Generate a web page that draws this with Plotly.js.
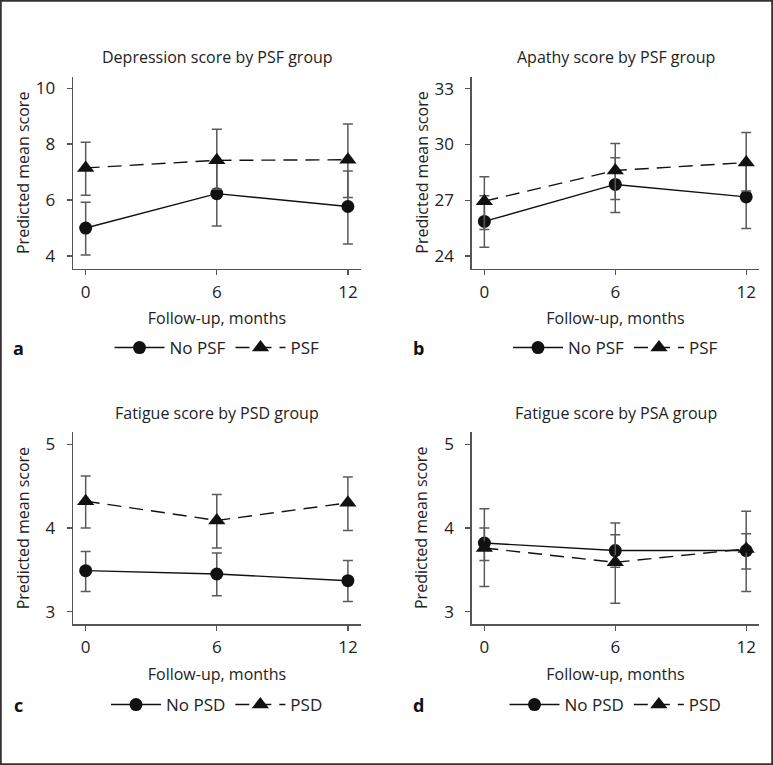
<!DOCTYPE html>
<html>
<head>
<meta charset="utf-8">
<script src="https://cdn.plot.ly/plotly-3.0.1.min.js"></script>
<style>html,body{margin:0;padding:0;background:#fff;}#chart{width:773px;height:765px;}</style>
</head>
<body>
<div id="chart"></div>
<script>
// ---- data ----
const months = [0, 6, 12];

// Panel a: Depression score by PSF group
const depNoPSF = [5.00, 6.23, 5.77];
const depNoPSFLo = [4.04, 5.07, 4.43];
const depNoPSFHi = [5.92, 7.39, 7.04];
const depPSF = [7.15, 7.42, 7.44];
const depPSFLo = [6.17, 6.39, 6.09];
const depPSFHi = [8.07, 8.53, 8.72];

// Panel b: Apathy score by PSF group
const apNoPSF = [25.86, 27.85, 27.18];
const apNoPSFLo = [24.47, 26.34, 25.48];
const apNoPSFHi = [27.24, 29.28, 28.90];
const apPSF = [26.95, 28.60, 29.03];
const apPSFLo = [25.43, 27.04, 27.50];
const apPSFHi = [28.26, 30.05, 30.64];

// Panel c: Fatigue score by PSD group
const fatNoPSD = [3.49, 3.45, 3.37];
const fatNoPSDLo = [3.24, 3.19, 3.12];
const fatNoPSDHi = [3.72, 3.70, 3.61];
const fatPSD = [4.32, 4.09, 4.30];
const fatPSDLo = [4.00, 3.76, 3.97];
const fatPSDHi = [4.62, 4.40, 4.61];

// Panel d: Fatigue score by PSA group
const psaNo = [3.82, 3.73, 3.73];
const psaNoLo = [3.61, 3.53, 3.51];
const psaNoHi = [4.00, 3.92, 3.93];
const psaYes = [3.76, 3.59, 3.75];
const psaYesLo = [3.30, 3.10, 3.24];
const psaYesHi = [4.23, 4.06, 4.20];

const panelTitles = ["Depression score by PSF group", "Apathy score by PSF group",
                     "Fatigue score by PSD group", "Fatigue score by PSA group"];
const panelLetters = ["a", "b", "c", "d"];
const legendNames = [["No PSF", "PSF"], ["No PSF", "PSF"], ["No PSD", "PSD"], ["No PSD", "PSD"]];
const yTicks = [[4, 6, 8, 10], [24, 27, 30, 33], [3, 4, 5], [3, 4, 5]];
const xTicks = [0, 6, 12];
const xTitle = "Follow-up, months";
const yTitle = "Predicted mean score";

// ---- layout helpers ----
const W = 773, H = 765;
const FONT = "Open Sans, Noto Sans, sans-serif";
const TXT = "#222";
const px = v => v / W;
const py = v => 1 - v / H;

const boxes = [
  {l: 73, r: 361, t: 77, b: 269},
  {l: 471.7, r: 759.3, t: 77, b: 269},
  {l: 73, r: 361, t: 432.3, b: 624.3},
  {l: 471.7, r: 759.3, t: 432.3, b: 624.3}
];
const yRanges = [[3.535, 10.40], [23.30, 33.63], [2.849, 5.143], [2.849, 5.143]];
const xRange = [-0.58, 12.6];

const series = [
  [[depNoPSF, depNoPSFLo, depNoPSFHi], [depPSF, depPSFLo, depPSFHi]],
  [[apNoPSF, apNoPSFLo, apNoPSFHi], [apPSF, apPSFLo, apPSFHi]],
  [[fatNoPSD, fatNoPSDLo, fatNoPSDHi], [fatPSD, fatPSDLo, fatPSDHi]],
  [[psaNo, psaNoLo, psaNoHi], [psaYes, psaYesLo, psaYesHi]]
];

const traces = [];
const layout = {
  width: W, height: H,
  margin: {l: 0, r: 0, t: 0, b: 0},
  paper_bgcolor: "#fff", plot_bgcolor: "#fff",
  font: {family: FONT, size: 16, color: TXT},
  showlegend: true,
  annotations: [],
  shapes: [{type: "rect", xref: "paper", yref: "paper", x0: 0.001, x1: 0.999, y0: 0.001, y1: 0.999,
            line: {color: "#333", width: 2}}]
};

series.forEach((pair, i) => {
  const n = i + 1;
  const xa = "x" + (n === 1 ? "" : n), ya = "y" + (n === 1 ? "" : n);
  const lg = n === 1 ? "legend" : "legend" + n;
  pair.forEach((s, j) => {
    const [mean, lo, hi] = s;
    traces.push({
      type: "scatter", mode: "lines+markers",
      x: months, y: mean, xaxis: xa, yaxis: ya,
      name: legendNames[i][j], legend: lg,
      line: {color: "#111", width: 1.4, dash: j === 0 ? "solid" : "14px,8px"},
      marker: {symbol: j === 0 ? "circle" : "triangle-up", size: j === 0 ? 13 : 15, color: "#111"},
      error_y: {type: "data", symmetric: false,
                array: hi.map((h, k) => h - mean[k]),
                arrayminus: lo.map((l, k) => mean[k] - l),
                color: "#5a5a5a", thickness: 1.5, width: 5},
      hoverinfo: "skip"
    });
  });
  const bx = boxes[i];
  const axCommon = {showgrid: false, zeroline: false, showline: true, linecolor: "#555", linewidth: 1.3,
                    ticks: "outside", ticklen: 5, tickcolor: "#555", tickwidth: 1.3,
                    tickfont: {family: FONT, size: 17, color: TXT}, fixedrange: true};
  layout["xaxis" + (n === 1 ? "" : n)] = Object.assign({}, axCommon, {
    domain: [px(bx.l), px(bx.r)], anchor: ya, range: xRange,
    tickmode: "array", tickvals: xTicks, ticktext: xTicks.map(String),
    ticklabelstandoff: 2,
    title: {text: xTitle, font: {family: FONT, size: 16, color: TXT}, standoff: 11}
  });
  layout["yaxis" + (n === 1 ? "" : n)] = Object.assign({}, axCommon, {
    domain: [py(bx.b), py(bx.t)], anchor: xa, range: yRanges[i],
    tickmode: "array", tickvals: yTicks[i], ticktext: yTicks[i].map(String),
    ticklabelstandoff: 8
  });
  const cx = (bx.l + bx.r) / 2;
  const legY = i < 2 ? 348 : 705;
  layout[lg] = {orientation: "h", x: px(cx), y: py(legY), xanchor: "center", yanchor: "middle",
                font: {family: FONT, size: 17, color: TXT}, bgcolor: "rgba(0,0,0,0)",
                itemwidth: 50, tracegroupgap: 0};
  layout.annotations.push({xref: "paper", yref: "paper", x: px(cx), y: py(i < 2 ? 57 : 413),
    text: panelTitles[i], showarrow: false, xanchor: "center", yanchor: "middle",
    font: {family: FONT, size: 16, color: TXT}});
  layout.annotations.push({xref: "paper", yref: "paper", x: px(bx.l - 50), y: py((bx.t + bx.b) / 2),
    text: yTitle, textangle: -90, showarrow: false, xanchor: "center", yanchor: "middle",
    font: {family: FONT, size: 16, color: TXT}});
  layout.annotations.push({xref: "paper", yref: "paper", x: px(i % 2 === 0 ? 18 : 418), y: py(legY),
    text: "<b>" + panelLetters[i] + "</b>", showarrow: false, xanchor: "center", yanchor: "middle",
    font: {family: FONT, size: 18, color: "#111"}});
});

Plotly.newPlot("chart", traces, layout, {displayModeBar: false, staticPlot: true});
</script>
</body>
</html>
